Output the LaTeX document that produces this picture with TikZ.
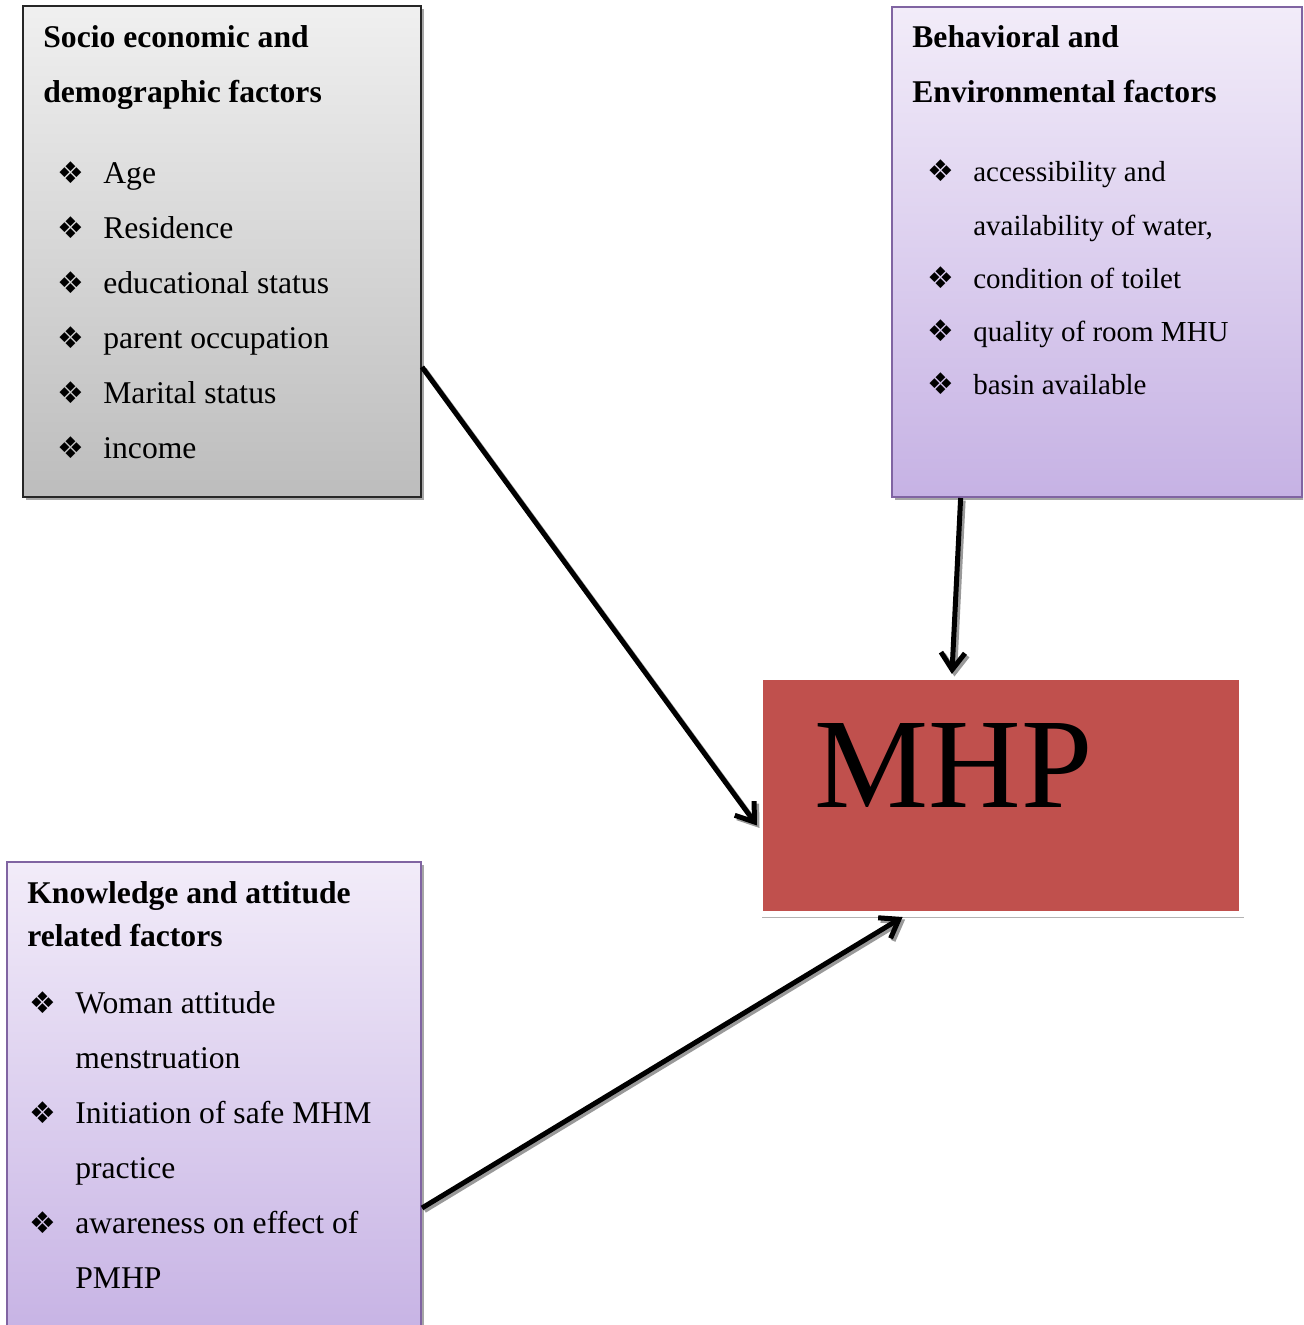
\documentclass[tikz,border=0pt]{standalone}
\usepackage{fontspec}
\setmainfont{Liberation Serif}
\newfontfamily\symfont{DejaVu Sans}
\usepackage{tikz}
\usetikzlibrary{arrows.meta,positioning,shadows}

\definecolor{lavtop}{HTML}{F2ECF9}
\definecolor{lavbot}{HTML}{C6B2E4}
\definecolor{lavline}{HTML}{8064A2}
\definecolor{mhpred}{HTML}{C0504D}

\newcommand{\bul}{\makebox[9.2mm][l]{\raisebox{0pt}[0pt][0pt]{\symfont\fontsize{17}{17}\selectfont ❖}}}

\begin{document}
\begin{tikzpicture}[x=0.2mm, y=-0.2mm,
	factorbox/.style={rectangle, line width=0.4mm, drop shadow={shadow xshift=0.6mm, shadow yshift=-0.6mm, fill=black!35, opacity=1}},
	greybox/.style={factorbox, draw=black!85, top color=black!6, bottom color=black!26},
	lavbox/.style={factorbox, draw=lavline, top color=lavtop, bottom color=lavbot},
	mhpbox/.style={rectangle, fill=mhpred, draw=white, line width=1.2mm, minimum width=96.4mm, minimum height=47.4mm, drop shadow={shadow xshift=0.3mm, shadow yshift=-0.8mm, fill=black!30, opacity=1}},
	boxtitle/.style={inner sep=0, align=left, font=\bfseries\fontsize{18}{31.3}\selectfont},
	itemlist/.style={inner sep=0, align=left, font=\fontsize{18}{31.3}\selectfont},
	arr/.style={line width=1mm, -{Straight Barb[length=3.4mm, width=4.8mm]}},
	arrshadow/.style={arr, draw=black!40, transform canvas={shift={(0.5mm,-0.5mm)}}}
	]
		\useasboundingbox (0,0) rectangle (1303,1325);
		\clip (0,0) rectangle (1303,1325);
		
		% factor boxes
		\node[greybox, minimum width=79.6mm, minimum height=98.2mm] (socio) at (222,251.5) {};
		\node[lavbox, minimum width=82mm, minimum height=98mm] (behav) at (1097,252) {};
		\node[lavbox, minimum width=82.8mm, minimum height=96mm] (know) at (214,1102) {};
		\node[mhpbox] (mhp) at (1001,795.5) {};
		
		\node[boxtitle, below right=4mm and 4.2mm of socio.north west] (sociotitle) {Socio economic and\\demographic factors};
		\node[itemlist, below right=31.4mm and 7mm of socio.north west] (sociolist) {\bul Age\\\bul Residence\\\bul educational status\\\bul parent occupation\\\bul Marital status\\\bul income};
		
		\node[boxtitle, below right=3.8mm and 4.2mm of behav.north west] (behavtitle) {Behavioral and\\Environmental factors};
		\node[itemlist, font=\fontsize{16.5}{30.2}\selectfont, below right=31.1mm and 7.2mm of behav.north west] (behavlist) {\bul accessibility and\\\hspace*{9.2mm}availability of water,\\\bul condition of toilet\\\bul quality of room MHU\\\bul basin available};
		
		\node[boxtitle, font=\bfseries\fontsize{18}{24.4}\selectfont, below right=4mm and 4.2mm of know.north west] (knowtitle) {Knowledge and attitude\\related factors};
		\node[itemlist, below right=26mm and 4.6mm of know.north west] (knowlist) {\bul Woman attitude\\\hspace*{9.2mm}menstruation\\\bul Initiation of safe MHM\\\hspace*{9.2mm}practice\\\bul awareness on effect of\\\hspace*{9.2mm}PMHP};
		
		\node[inner sep=0, anchor=base west, font=\fontsize{73}{80}\selectfont] (mhpword) at ([xshift=11.5mm, yshift=-2.4mm]mhp.west) {MHP};
		
		% arrows
		\draw[arrshadow] (socio.-30) -- (mhp.187);
		\draw[arr] (socio.-30) -- (mhp.187);
		\draw[arrshadow] (behav.241) -- (mhp.112);
		\draw[arr] (behav.241) -- (mhp.112);
		\draw[arrshadow] (know.-27) -- (mhp.231);
		\draw[arr] (know.-27) -- (mhp.231);
	\end{tikzpicture}
\end{document}
